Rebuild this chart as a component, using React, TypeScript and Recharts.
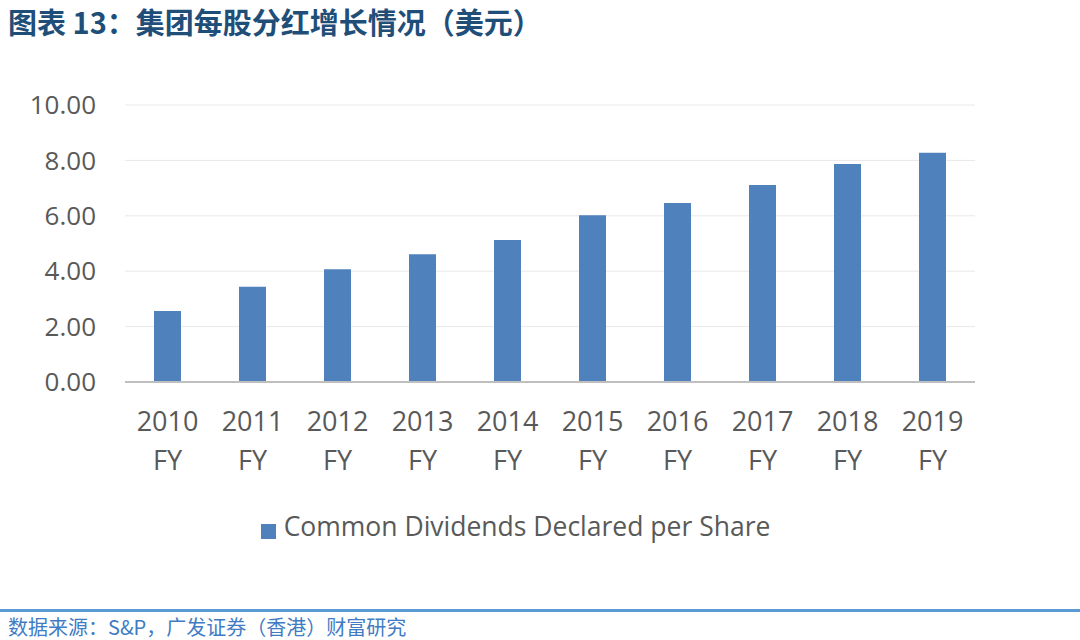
import React from "react"
import { Bar, BarChart, CartesianGrid, Legend, XAxis, YAxis } from "recharts"

const years = ["2010", "2011", "2012", "2013", "2014", "2015", "2016", "2017", "2018", "2019"]
const dividends = [2.56, 3.44, 4.07, 4.61, 5.13, 6.02, 6.46, 7.11, 7.87, 8.28]
const yTicks = [0, 2, 4, 6, 8, 10]

const data = years.map((y, i) => ({ year: `${y} FY`, dps: dividends[i] }))

const FONT = "'Open Sans', 'Noto Sans', sans-serif"
const CJK = "'Noto Sans CJK SC', 'Noto Sans', sans-serif"

// two-line category label: year on top, "FY" under it
function YearTick(props: any) {
  const { x, y, payload } = props
  const [yr, fy] = String(payload.value).split(" ")
  return (
    <g transform={`translate(${x},${y})`}>
      <text textAnchor="middle" fill="#595959" fontSize={27} fontFamily={FONT}>
        <tspan x={0} y={41}>{yr}</tspan>
        <tspan x={0} y={80}>{fy}</tspan>
      </text>
    </g>
  )
}

export default function App() {
  return (
    <div style={{ position: "absolute", top: 0, left: 0, width: 1080, height: 640, background: "#fff", fontFamily: FONT }}>
      <div style={{ position: "absolute", left: 8, top: 0, fontFamily: CJK, fontWeight: 700, fontSize: 29, lineHeight: "normal", color: "#1F4E79", whiteSpace: "nowrap" }}>
        图表 13：集团每股分红增长情况（美元）
      </div>

      <BarChart width={1080} height={640} data={data} margin={{ top: 105, right: 105, left: 0, bottom: 158 }}>
        <CartesianGrid vertical={false} stroke="#e8e8e8" />
        <XAxis
          dataKey="year"
          height={100}
          interval={0}
          tickLine={false}
          axisLine={{ stroke: "#bfbfbf", strokeWidth: 2 }}
          tick={<YearTick />}
        />
        <YAxis
          width={125}
          domain={[0, 10]}
          ticks={yTicks}
          axisLine={false}
          tickLine={false}
          tickSize={0}
          tickMargin={29}
          tickFormatter={(v: number) => v.toFixed(2)}
          tick={{ fill: "#595959", fontSize: 26, fontFamily: FONT }}
        />
        <Legend
          layout="horizontal"
          verticalAlign="middle"
          align="center"
          iconType="square"
          iconSize={15}
          wrapperStyle={{ top: 508, left: 0, width: 1041 }}
          formatter={(value: string) => (
            <span style={{ color: "#595959", fontSize: 26.5, fontFamily: FONT, marginLeft: 4 }}>{value}</span>
          )}
        />
        <Bar
          dataKey="dps"
          name="Common Dividends Declared per Share"
          fill="#4F81BD"
          barSize={27}
          isAnimationActive={false}
        />
      </BarChart>

      <div style={{ position: "absolute", left: 0, top: 609, width: 1080, height: 3, background: "#5B9BD5" }} />
      <div style={{ position: "absolute", left: 8, top: 614, fontFamily: CJK, fontSize: 20, lineHeight: "26px", color: "#3F7CC4", whiteSpace: "nowrap" }}>
        数据来源：S&amp;P，广发证券（香港）财富研究
      </div>
    </div>
  )
}
